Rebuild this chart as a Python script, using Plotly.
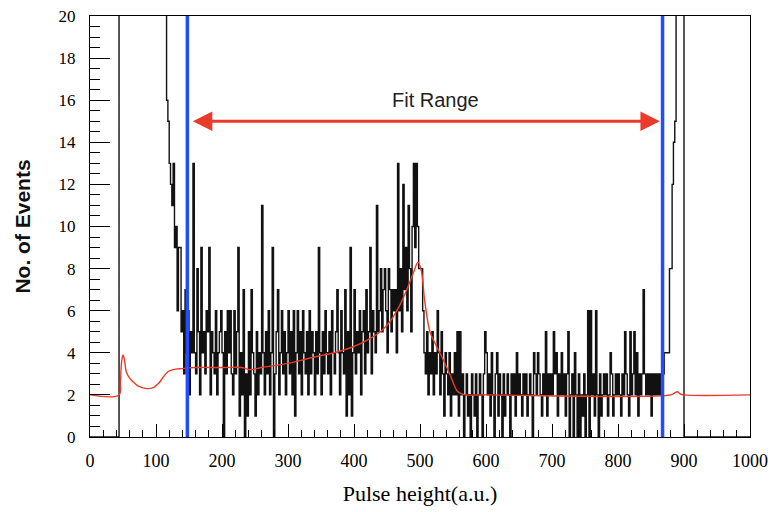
import plotly.graph_objects as go

# Histogram: bin width 2, bins from 0 to 1000 (500 bins), counts per bin
bin_width = 2
counts_000 = [0] * 22 + [41, 45, 48, 52, 55, 57, 58, 60, 59, 57, 56, 54, 52, 51, 49, 48,
                         47, 46, 45, 44, 42, 41, 40, 39, 38, 37, 36, 35]
counts_100 = [34, 31, 29, 27, 26, 24, 23, 21, 16, 15,
              13, 12, 11, 13, 9, 10, 6, 9, 9, 5,
              6, 3, 7, 4, 6, 2, 5, 4, 13, 4,
              3, 8, 5, 2, 9, 4, 5, 3, 6, 5,
              9, 2, 5, 4, 3, 6, 2, 4, 5, 6]
counts_200 = [4, 0, 5, 3, 6, 4, 6, 3, 2, 6,
              3, 5, 9, 1, 4, 2, 7, 0, 3, 1,
              5, 2, 7, 4, 3, 1, 5, 2, 4, 3,
              11, 4, 2, 5, 3, 6, 2, 4, 9, 0,
              3, 5, 7, 2, 4, 6, 3, 5, 2, 4]
counts_300 = [6, 3, 5, 2, 6, 1, 4, 6, 3, 5,
              2, 6, 4, 3, 5, 2, 6, 3, 5, 4,
              2, 5, 3, 9, 4, 2, 5, 3, 6, 4,
              3, 5, 2, 6, 4, 3, 5, 7, 4, 2,
              6, 4, 3, 7, 1, 5, 2, 9, 1, 4]
counts_400 = [7, 3, 5, 4, 6, 2, 5, 6, 3, 7,
              4, 5, 9, 3, 6, 5, 4, 11, 5, 6,
              8, 5, 7, 8, 6, 4, 8, 7, 5, 7,
              6, 7, 4, 13, 6, 8, 5, 12, 7, 9,
              6, 11, 8, 5, 10, 13, 9, 13, 10, 8]
counts_500 = [8, 8, 6, 4, 3, 5, 2, 4, 3, 5,
              2, 4, 3, 6, 4, 2, 5, 3, 1, 4,
              3, 2, 4, 1, 3, 2, 4, 2, 5, 1,
              5, 2, 3, 0, 2, 3, 1, 2, 0, 3,
              2, 1, 3, 0, 2, 3, 2, 0, 3, 5]
counts_600 = [4, 2, 3, 1, 4, 2, 0, 3, 4, 1,
              3, 2, 0, 3, 1, 2, 3, 2, 0, 3,
              2, 3, 1, 4, 2, 3, 2, 1, 3, 2,
              3, 1, 2, 3, 2, 0, 4, 3, 2, 4,
              3, 2, 1, 3, 2, 5, 1, 3, 2, 3]
counts_700 = [2, 5, 3, 4, 1, 3, 2, 4, 2, 3,
              1, 3, 5, 0, 2, 3, 0, 4, 2, 0,
              3, 0, 2, 1, 3, 0, 2, 6, 0, 6,
              2, 3, 1, 6, 2, 0, 3, 1, 2, 3,
              2, 3, 1, 2, 4, 3, 1, 2, 3, 2]
counts_800 = [3, 2, 1, 3, 2, 5, 3, 2, 1, 5,
              2, 3, 5, 2, 4, 1, 3, 2, 3, 7,
              3, 2, 3, 2, 3, 1, 3, 2, 3, 2,
              3, 2, 3, 2, 3, 4, 4, 4, 4, 8,
              8, 12, 14, 15, 26, 31, 38, 42, 45, 40]
counts_900 = [0] * 50

counts = (counts_000 + counts_100 + counts_200 + counts_300 + counts_400 +
          counts_500 + counts_600 + counts_700 + counts_800 + counts_900)
edges = [i * bin_width for i in range(len(counts) + 1)]

# Simulated fit curve (red)
fit_x = [0, 44, 46, 48, 50, 52, 55, 60, 66, 74, 86, 96, 104, 110, 118, 126, 140, 160,
         200, 230, 242, 260, 300, 340, 370, 400, 420, 440, 455, 470, 480, 490, 497,
         502, 507, 515, 522, 530, 545, 556, 563, 570, 600, 880, 886, 890, 894, 900, 1000]
fit_y = [2.0, 2.0, 2.6, 3.6, 3.9, 3.7, 3.1, 2.8, 2.6, 2.4, 2.3, 2.35, 2.55, 2.8, 3.1, 3.2,
         3.25, 3.3, 3.3, 3.3, 3.2, 3.3, 3.5, 3.8, 4.0, 4.3, 4.6, 5.0, 5.5, 6.3, 7.0, 7.8,
         8.3, 7.9, 6.5, 5.0, 4.5, 4.0, 3.0, 2.2, 2.05, 2.0, 2.0, 2.0, 2.1, 2.15, 2.05, 2.0, 2.0]

# Fit range boundaries
fit_range = [147.5, 867.5]
arrow_y = 15
label_text = "Fit Range"
label_pos = (524, 16.0)

x_ticks = [0, 100, 200, 300, 400, 500, 600, 700, 800, 900, 1000]
y_ticks = [0, 2, 4, 6, 8, 10, 12, 14, 16, 18, 20]

fig = go.Figure()

fig.add_trace(go.Scatter(
    x=edges, y=counts + [counts[-1]], mode="lines", line_shape="hv",
    line=dict(color="#111111", width=1.4), hoverinfo="skip", showlegend=False))

fig.add_trace(go.Scatter(
    x=fit_x, y=fit_y, mode="lines", line_shape="spline",
    line=dict(color="#ea3b2a", width=1.4), showlegend=False))

for xv in fit_range:
    fig.add_trace(go.Scatter(
        x=[xv, xv], y=[0, 20], mode="lines",
        line=dict(color="#1f4dff", width=3.5), showlegend=False))

fig.add_annotation(
    x=fit_range[1] - 4, y=arrow_y, ax=fit_range[0] + 6, ay=arrow_y,
    xref="x", yref="y", axref="x", ayref="y", text="", showarrow=True,
    arrowside="end+start", arrowhead=2, startarrowhead=2,
    arrowsize=1.3, startarrowsize=1.3, arrowwidth=3, arrowcolor="#ea3b2a")

fig.add_annotation(
    x=label_pos[0], y=label_pos[1], xref="x", yref="y", text=label_text,
    showarrow=False, font=dict(family="Liberation Sans", size=20, color="#222222"))

serif = "Liberation Serif, Times New Roman, serif"
fig.update_layout(
    width=777, height=512,
    margin=dict(l=82, r=35, t=8, b=83, autoexpand=False),
    plot_bgcolor="white", paper_bgcolor="white",
    font=dict(family=serif),
    xaxis=dict(
        range=[0, 1000], tickvals=x_ticks, ticktext=[str(v) for v in x_ticks],
        ticks="inside", ticklen=13, tickcolor="black", tickwidth=1,
        minor=dict(dtick=20, ticks="inside", ticklen=7, tickcolor="black"),
        showline=True, linecolor="black", linewidth=1, mirror=True,
        showgrid=False, zeroline=False, automargin=False,
        ticklabeloverflow="allow",
        tickfont=dict(family=serif, size=18, color="black"),
        ticklabelstandoff=7,
        title=dict(text="Pulse height(a.u.)", font=dict(family=serif, size=22, color="black"),
                   standoff=16)),
    yaxis=dict(
        range=[0, 20], tickvals=y_ticks, ticktext=[str(v) for v in y_ticks],
        ticks="inside", ticklen=20, tickcolor="black", tickwidth=1,
        minor=dict(dtick=0.5, ticks="inside", ticklen=10, tickcolor="black"),
        showline=True, linecolor="black", linewidth=1, mirror=True,
        showgrid=False, zeroline=False, automargin=False,
        ticklabeloverflow="allow",
        tickfont=dict(family=serif, size=17, color="black"),
        ticklabelstandoff=10,
        title=dict(text="<b>No. of Events</b>",
                   font=dict(family="Liberation Sans", size=21, color="#111111"),
                   standoff=22)),
)

fig.write_html("out.html")
